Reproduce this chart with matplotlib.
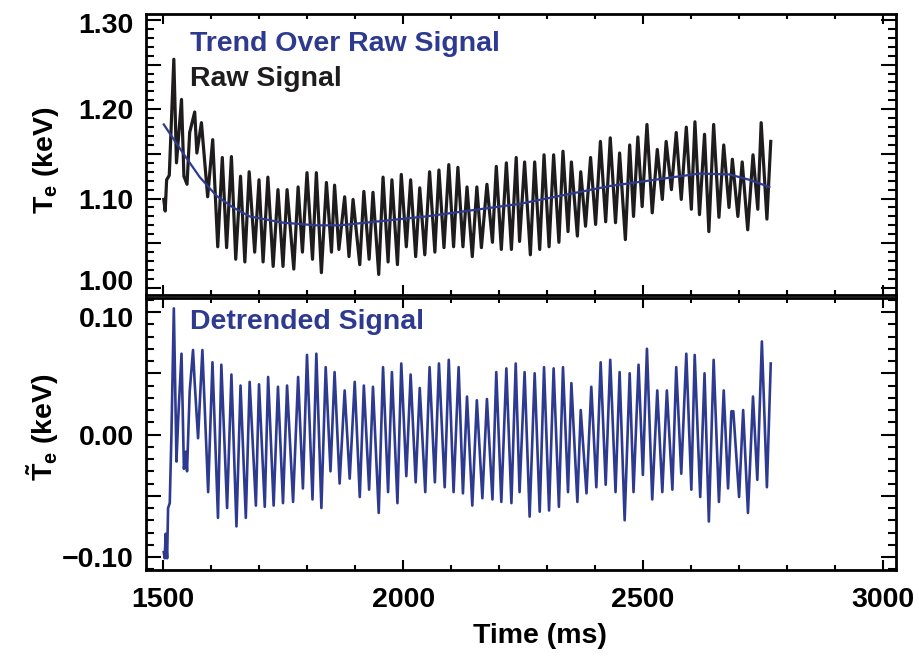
import numpy as np
import matplotlib
matplotlib.use("Agg")
import matplotlib.pyplot as plt
from matplotlib.ticker import MultipleLocator, FuncFormatter
from matplotlib.transforms import ScaledTranslation

plt.rcParams['font.family'] = ['Liberation Sans', 'DejaVu Sans']
plt.rcParams['font.weight'] = 'bold'
plt.rcParams['axes.labelweight'] = 'bold'
plt.rcParams['mathtext.fontset'] = 'custom'
plt.rcParams['mathtext.rm'] = 'Liberation Sans:bold'
plt.rcParams['mathtext.it'] = 'Liberation Sans:bold'
plt.rcParams['mathtext.bf'] = 'Liberation Sans:bold'

# raw Te signal: turning points (ms, keV)
t_raw = [1501, 1504, 1507, 1512.5, 1522, 1527.5, 1538, 1543, 1549.5, 1555,
         1565.5, 1570, 1579.5, 1592.5, 1603, 1613.5, 1623, 1632, 1642, 1651,
         1661, 1670, 1679, 1690.5, 1699.5, 1708, 1718, 1729, 1739, 1749.5,
         1758, 1772, 1781, 1790, 1799.5, 1811, 1819, 1829.5, 1840, 1850.5,
         1857, 1866, 1878, 1887, 1895.5, 1909.5, 1918, 1929, 1937, 1949,
         1958, 1968.5, 1976.5, 1988, 1996, 2006.5, 2015.5, 2026, 2034.5, 2045,
         2055, 2066, 2074.5, 2085, 2095, 2105, 2114, 2124.5, 2133, 2144,
         2153.5, 2163, 2174.5, 2186, 2194, 2204.5, 2215, 2225.5, 2235.5, 2242.5,
         2253, 2265, 2274, 2284.5, 2293.5, 2304, 2313.5, 2324.5, 2333, 2343.5,
         2350.5, 2363, 2370, 2380, 2390.5, 2401, 2411, 2422, 2431.5, 2442.5,
         2451, 2463, 2472, 2480, 2489, 2498, 2508, 2519, 2529.5, 2540,
         2548, 2559, 2569, 2579.5, 2590, 2600.5, 2608, 2617.5, 2628, 2637,
         2647, 2658, 2668, 2679, 2686, 2697.5, 2706.5, 2718, 2729, 2739,
         2746, 2758, 2766]
te_raw = [1.099, 1.086, 1.121, 1.126, 1.256, 1.140, 1.211, 1.125, 1.116, 1.174,
          1.197, 1.151, 1.185, 1.102, 1.166, 1.046, 1.146, 1.045, 1.147, 1.032,
          1.125, 1.029, 1.130, 1.040, 1.121, 1.029, 1.124, 1.024, 1.110, 1.024,
          1.110, 1.021, 1.113, 1.040, 1.129, 1.032, 1.129, 1.017, 1.118, 1.040,
          1.115, 1.043, 1.102, 1.035, 1.099, 1.026, 1.108, 1.032, 1.107, 1.015,
          1.124, 1.029, 1.121, 1.026, 1.127, 1.046, 1.121, 1.035, 1.112, 1.037,
          1.130, 1.040, 1.132, 1.045, 1.138, 1.046, 1.135, 1.046, 1.113, 1.035,
          1.113, 1.045, 1.116, 1.051, 1.136, 1.043, 1.140, 1.043, 1.146, 1.052,
          1.141, 1.037, 1.141, 1.043, 1.149, 1.046, 1.149, 1.051, 1.153, 1.063,
          1.141, 1.058, 1.130, 1.069, 1.146, 1.071, 1.164, 1.074, 1.168, 1.073,
          1.151, 1.054, 1.160, 1.080, 1.169, 1.091, 1.183, 1.084, 1.155, 1.099,
          1.164, 1.110, 1.174, 1.099, 1.180, 1.088, 1.186, 1.082, 1.172, 1.063,
          1.183, 1.079, 1.160, 1.090, 1.144, 1.080, 1.141, 1.065, 1.149, 1.088,
          1.185, 1.077, 1.164]

# smooth trend (ms, keV)
t_trend = [1501, 1541, 1576, 1611, 1645.5, 1680, 1749.5, 1819, 1867.5, 2048,
           2242, 2430, 2617.5, 2680, 2721.5, 2763]
te_trend = [1.183, 1.151, 1.124, 1.103, 1.090, 1.080, 1.073, 1.070, 1.070, 1.080,
            1.094, 1.114, 1.128, 1.127, 1.121, 1.113]

# detrended signal: turning points (ms, keV)
t_det = [1501, 1503, 1505, 1508, 1510, 1513.5, 1517, 1522, 1527.5, 1531,
         1538, 1543, 1547, 1549.5, 1555, 1562, 1565.5, 1572.5, 1581.5, 1593.5,
         1602.5, 1614, 1621, 1633, 1642, 1652.5, 1661, 1672, 1680, 1693,
         1699.5, 1711.5, 1718.5, 1730, 1739, 1749.5, 1758, 1770.5, 1781, 1791,
         1799.5, 1811, 1819, 1829.5, 1838.5, 1848.5, 1857, 1867.5, 1878, 1888.5,
         1899, 1909.5, 1918, 1929, 1937, 1949, 1958, 1968.5, 1976.5, 1988,
         1996, 2006.5, 2015.5, 2026, 2034.5, 2046, 2055, 2066, 2074.5, 2086.5,
         2095, 2105, 2115.5, 2124.5, 2133, 2144, 2153.5, 2165, 2174.5, 2186,
         2194, 2204.5, 2215, 2225.5, 2234.5, 2242.5, 2253, 2263.5, 2274, 2284.5,
         2293.5, 2304, 2313.5, 2324.5, 2333, 2343.5, 2350.5, 2363, 2370, 2382,
         2392, 2402.5, 2411.5, 2422, 2431.5, 2442.5, 2451, 2461.5, 2472, 2480,
         2490.5, 2499.5, 2508, 2519, 2529.5, 2540, 2549.5, 2561, 2569, 2579.5,
         2590, 2600.5, 2607.5, 2619, 2628, 2637, 2647, 2658, 2668, 2677,
         2684, 2688, 2700, 2708.5, 2718.5, 2729, 2738, 2747.5, 2758, 2766]
te_det = [-0.096, -0.101, -0.081, -0.101, -0.060, -0.056, 0.000, 0.103, -0.022, 0.012,
          0.066, -0.028, -0.014, -0.030, 0.035, 0.069, 0.042, -0.003, 0.069, -0.047,
          0.059, -0.068, 0.057, -0.060, 0.049, -0.075, 0.040, -0.068, 0.043, -0.058,
          0.041, -0.059, 0.047, -0.058, 0.039, -0.056, 0.040, -0.055, 0.047, -0.044,
          0.065, -0.053, 0.066, -0.060, 0.055, -0.030, 0.051, -0.040, 0.036, -0.036,
          0.043, -0.051, 0.040, -0.045, 0.039, -0.064, 0.055, -0.047, 0.051, -0.056,
          0.058, -0.034, 0.049, -0.039, 0.038, -0.047, 0.055, -0.039, 0.058, -0.043,
          0.061, -0.047, 0.055, -0.048, 0.031, -0.058, 0.028, -0.052, 0.029, -0.053,
          0.051, -0.055, 0.054, -0.056, 0.058, -0.047, 0.051, -0.067, 0.050, -0.063,
          0.055, -0.062, 0.054, -0.059, 0.055, -0.047, 0.042, -0.055, 0.020, -0.048,
          0.039, -0.043, 0.059, -0.041, 0.061, -0.047, 0.051, -0.070, 0.050, -0.047,
          0.057, -0.033, 0.070, -0.053, 0.036, -0.047, 0.036, -0.045, 0.055, -0.032,
          0.066, -0.045, 0.065, -0.051, 0.050, -0.071, 0.061, -0.055, 0.036, -0.044,
          0.019, 0.019, -0.051, 0.020, -0.064, 0.031, -0.037, 0.076, -0.043, 0.058]

blue = '#2e3a90'
ink = '#1e1c1d'
fs = 20.5

fig = plt.figure(figsize=(9.2, 6.58), dpi=100)
ax1 = fig.add_axes([0.1587, 0.5517, 0.8152, 0.4270])
ax2 = fig.add_axes([0.1587, 0.1337, 0.8152, 0.4133], sharex=ax1)

ax1.plot(t_raw, te_raw, color=ink, lw=2.3)
ax1.plot(t_trend, te_trend, color=blue, lw=1.6)
ax2.plot(t_det, te_det, color=blue, lw=1.9)

ax1.set_xlim(1464, 3027)
ax1.set_ylim(0.992, 1.3067)
ax2.set_ylim(-0.1106, 0.1114)

two = FuncFormatter(lambda v, p: ('%.2f' % v).replace('-', '\u2212') if abs(round(v * 10) - v * 10) < 1e-6 else '')
for ax in (ax1, ax2):
    ax.xaxis.set_major_locator(MultipleLocator(500))
    ax.xaxis.set_minor_locator(MultipleLocator(100))
    ax.yaxis.set_major_locator(MultipleLocator(0.05))
    ax.yaxis.set_minor_locator(MultipleLocator(0.01))
    ax.yaxis.set_major_formatter(two)
    ax.tick_params(which='both', direction='in', top=True, right=True, width=1.5, labelsize=fs)
    ax.tick_params(axis='y', which='major', length=11, pad=9)
    ax.tick_params(axis='y', which='minor', length=5.5)
    ax.tick_params(axis='x', which='major', length=7, pad=12)
    ax.tick_params(axis='x', which='minor', length=3.5)
    for s in ax.spines.values():
        s.set_linewidth(2)
ax1.tick_params(axis='x', labelbottom=False)

ax1.set_ylabel(r'$\mathrm{T}_\mathrm{e}$ (keV)', fontsize=fs)
ax2.set_ylabel(r'$\tilde{\mathrm{T}}_\mathrm{e}$ (keV)', fontsize=fs)
ax1.yaxis.set_label_coords(-0.113, 0.48)
ax2.yaxis.set_label_coords(-0.113, 0.526)
ax2.set_xlabel('Time (ms)', fontsize=fs)
ax2.xaxis.set_label_coords(0.525, -0.195)

ax1.text(0.0587, 0.895, 'Trend Over Raw Signal', transform=ax1.transAxes,
         color=blue, fontsize=fs, fontweight='bold', va='center', ha='left')
ax1.text(0.0587, 0.768, 'Raw Signal', transform=ax1.transAxes,
         color=ink, fontsize=fs, fontweight='bold', va='center', ha='left')
ax2.text(0.0587, 0.912, 'Detrended Signal', transform=ax2.transAxes,
         color=blue, fontsize=fs, fontweight='bold', va='center', ha='left')

# nudge the end labels that sit close to the shared panel border
fig.canvas.draw()
for ax, val, dy in ((ax1, 1.00, 8), (ax1, 1.30, -3), (ax2, 0.10, -5)):
    for tick in ax.yaxis.get_major_ticks():
        if abs(tick.get_loc() - val) < 1e-6:
            tick.label1.set_transform(tick.label1.get_transform()
                                      + ScaledTranslation(0, dy / 100, fig.dpi_scale_trans))

fig.savefig('out.png', dpi=100)
